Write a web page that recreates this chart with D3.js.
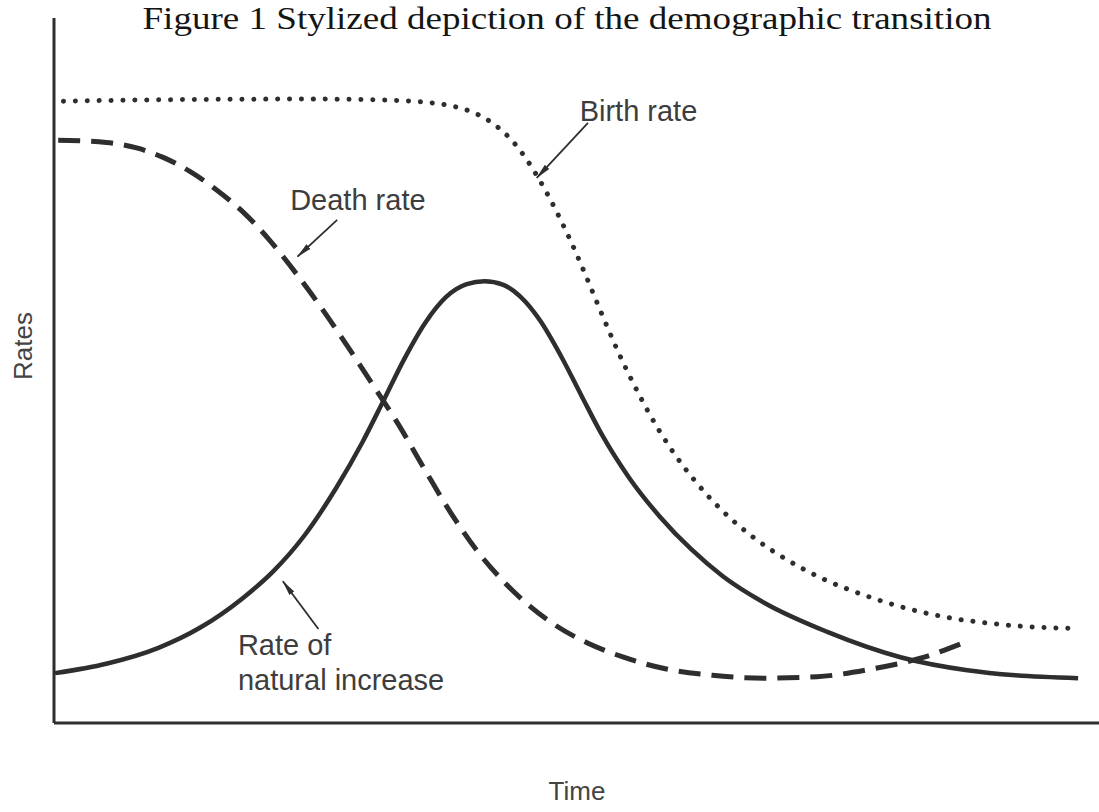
<!DOCTYPE html>
<html>
<head>
<meta charset="utf-8">
<script src="https://cdn.jsdelivr.net/npm/d3@7"></script>
<style>
  body { margin: 0; background: #fff; }
  svg { display: block; }
</style>
</head>
<body>
<svg id="chart" width="1099" height="812"></svg>
<script>
// stylized curves (time 0-100, rate 0-100)
var birthRate = [
  [0.9, 86.0], [10, 86.2], [25, 86.3], [33, 86.1], [36, 85.8], [38.5, 85.2],
  [40.5, 84.2], [42.3, 82.6], [43.8, 80.6], [45.2, 78.0], [46.5, 75.0], [48, 71.0],
  [49.5, 66.5], [51, 61.5], [52.5, 56.3], [54, 51.3], [55.5, 46.8], [57, 42.7],
  [59, 38.0], [61.5, 33.2], [64, 29.3], [67, 25.6], [70, 22.7], [73.5, 20.0],
  [77.5, 17.7], [81.5, 15.9], [85.5, 14.6], [89.5, 13.8], [93.5, 13.3], [97.5, 13.1]
]

var deathRate = [
  [0.4, 80.6], [5, 80.3], [8, 79.5], [10.5, 78.2], [13, 76.3], [15.5, 73.8],
  [18, 70.8], [20.5, 67.0], [23, 62.5], [25.5, 57.6], [28, 52.3], [30.5, 46.8],
  [33, 41.2], [35.5, 35.0], [38, 29.0], [40.5, 23.8], [43, 19.6], [45.5, 16.2],
  [48, 13.5], [51, 11.1], [54.5, 9.1], [58.5, 7.5], [63, 6.6], [68, 6.2],
  [73, 6.4], [78, 7.4], [83, 9.0], [87.4, 11.3]
]

var naturalIncrease = [
  [0.1, 6.9], [5, 8.2], [10, 10.4], [14, 13.2], [18, 17.2], [21, 21.0],
  [24, 26.0], [27, 32.5], [29.5, 38.8], [31.5, 44.5], [33.5, 50.3], [35.5, 55.3],
  [37.5, 58.9], [39.5, 60.7], [41.2, 61.1], [43, 60.6], [44.6, 59.0], [46.5, 55.7],
  [48.5, 50.8], [50.5, 45.2], [52.5, 39.7], [55, 34.0], [58, 28.5], [61, 24.0],
  [64, 20.3], [68, 16.6], [74, 12.6], [81, 9.1], [87.4, 7.3], [92, 6.6], [98, 6.2]
]

// labels and their pointer arrows: [tail, tip]
var labels = [
  { lines: ["Birth rate"], x: 50.3, y: 83.3 },
  { lines: ["Death rate"], x: 22.6, y: 71.0 },
  { lines: ["Rate of", "natural increase"], x: 17.6, y: 9.4 }
]
var arrows = [
  [[51.1, 83.0], [46.2, 75.4]],
  [[27.1, 69.6], [23.3, 64.5]],
  [[25.3, 13.0], [21.9, 19.6]]
]

var titleText = "Figure 1 Stylized depiction of the demographic transition"
var xLabel = "Time"
var yLabel = "Rates"

var svg = d3.select("#chart")
var ink = "#2e2e2e"

var x = d3.scaleLinear().domain([0, 100]).range([54, 1099])
var y = d3.scaleLinear().domain([0, 100]).range([723, 0])

var line = d3.line()
  .x(function(d) { return x(d[0]) })
  .y(function(d) { return y(d[1]) })
  .curve(d3.curveMonotoneX)

// arrowhead
svg.append("defs").append("marker")
  .attr("id", "head")
  .attr("viewBox", "0 0 16 8")
  .attr("refX", 15).attr("refY", 4)
  .attr("markerWidth", 16).attr("markerHeight", 8)
  .attr("markerUnits", "userSpaceOnUse")
  .attr("orient", "auto")
  .append("path")
  .attr("d", "M0,1 L16,4 L0,7 Z")
  .attr("fill", ink)

// axes (plain lines, no ticks)
svg.append("line")
  .attr("x1", x(0)).attr("x2", x(0))
  .attr("y1", y(0)).attr("y2", y(97.5))
  .attr("stroke", ink).attr("stroke-width", 3)
svg.append("line")
  .attr("x1", x(0)).attr("x2", x(100))
  .attr("y1", y(0)).attr("y2", y(0))
  .attr("stroke", ink).attr("stroke-width", 3)

// curves
svg.append("path")
  .datum(birthRate)
  .attr("d", line)
  .attr("fill", "none")
  .attr("stroke", ink)
  .attr("stroke-width", 5)
  .attr("stroke-linecap", "round")
  .attr("stroke-dasharray", "0.1 11.8")

svg.append("path")
  .datum(deathRate)
  .attr("d", line)
  .attr("fill", "none")
  .attr("stroke", ink)
  .attr("stroke-width", 5)
  .attr("stroke-dasharray", "22 11")

svg.append("path")
  .datum(naturalIncrease)
  .attr("d", line)
  .attr("fill", "none")
  .attr("stroke", ink)
  .attr("stroke-width", 4.5)

// pointers
svg.selectAll(".arrow")
  .data(arrows)
  .enter().append("line")
  .attr("class", "arrow")
  .attr("x1", function(d) { return x(d[0][0]) })
  .attr("y1", function(d) { return y(d[0][1]) })
  .attr("x2", function(d) { return x(d[1][0]) })
  .attr("y2", function(d) { return y(d[1][1]) })
  .attr("stroke", ink)
  .attr("stroke-width", 1.8)
  .attr("marker-end", "url(#head)")

// curve labels
var lab = svg.selectAll(".lab")
  .data(labels)
  .enter().append("text")
  .attr("class", "lab")
  .attr("x", function(d) { return x(d.x) })
  .attr("y", function(d) { return y(d.y) })
  .attr("font-family", "Liberation Sans, Arial, sans-serif")
  .attr("font-size", 29)
  .attr("fill", "#3d3d3d")
lab.selectAll("tspan")
  .data(function(d) { return d.lines.map(function(t) { return { t: t, x: d.x } }) })
  .enter().append("tspan")
  .attr("x", function(d) { return x(d.x) })
  .attr("dy", function(d, i) { return i == 0 ? 0 : 35 })
  .text(function(d) { return d.t })

// title
svg.append("text")
  .attr("x", 567).attr("y", 29)
  .attr("text-anchor", "middle")
  .attr("font-family", "Liberation Serif, Times New Roman, serif")
  .attr("font-size", 31)
  .attr("fill", "#151515")
  .attr("textLength", 849)
  .attr("lengthAdjust", "spacingAndGlyphs")
  .text(titleText)

// axis titles
svg.append("text")
  .attr("x", 577).attr("y", 800)
  .attr("text-anchor", "middle")
  .attr("font-family", "Liberation Sans, Arial, sans-serif")
  .attr("font-size", 26)
  .attr("fill", "#444")
  .text(xLabel)

svg.append("text")
  .attr("transform", "translate(32,346) rotate(-90)")
  .attr("text-anchor", "middle")
  .attr("font-family", "Liberation Sans, Arial, sans-serif")
  .attr("font-size", 26)
  .attr("fill", "#444")
  .text(yLabel)
</script>
</body>
</html>
